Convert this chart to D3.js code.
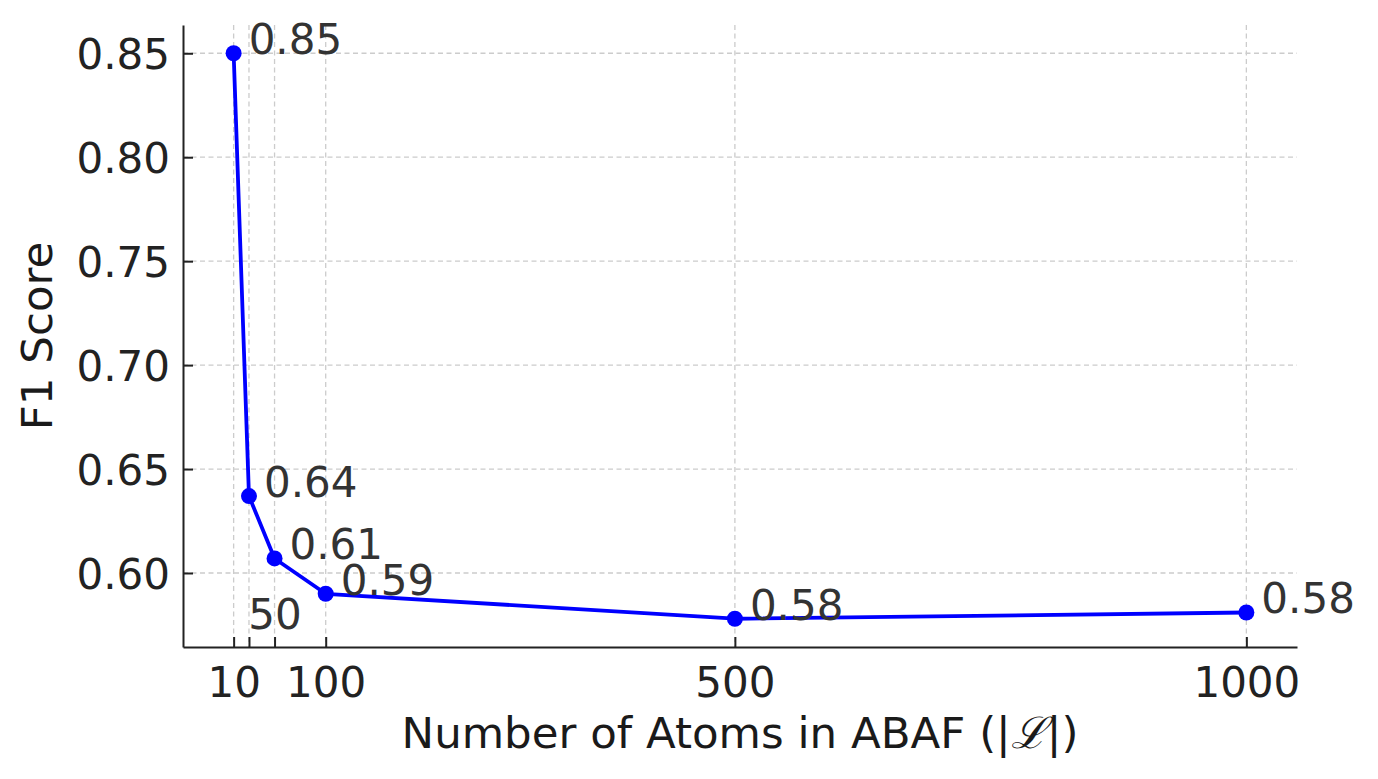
<!DOCTYPE html>
<html>
<head>
<meta charset="utf-8">
<script src="https://cdn.jsdelivr.net/npm/d3@7"></script>
<style>
  body { margin: 0; background: #fff; }
  text { font-family: "DejaVu Sans", sans-serif; }
</style>
</head>
<body>
<svg width="1378" height="779"></svg>
<script>
// data
const atoms = [10, 25, 50, 100, 500, 1000]
const f1 = [0.85, 0.637, 0.607, 0.590, 0.578, 0.581]
const xTicks = [10, 25, 50, 100, 500, 1000]
const xTickLabels = ["10", "", "50", "100", "500", "1000"]
const yTicks = [0.60, 0.65, 0.70, 0.75, 0.80, 0.85]

const svg = d3.select("svg")
const m = { left: 183, right: 1297, top: 25, bottom: 647 }
const fs = 42      // ticks + value labels
const fsTitle = 43.5

// matplotlib style 5% margins
const xPad = (d3.max(atoms) - d3.min(atoms)) * 0.05
const yPad = (d3.max(f1) - d3.min(f1)) * 0.05
const x = d3.scaleLinear()
    .domain([d3.min(atoms) - xPad, d3.max(atoms) + xPad])
    .range([m.left, m.right])
const y = d3.scaleLinear()
    .domain([d3.min(f1) - yPad, d3.max(f1) + yPad])
    .range([m.bottom, m.top])

// grid
const grid = svg.append("g")
    .attr("stroke", "#cccccc")
    .attr("stroke-width", 1.3)
    .attr("stroke-dasharray", "5,3.5")
grid.selectAll(".vg").data(xTicks).enter().append("line")
    .attr("x1", d => x(d)).attr("x2", d => x(d))
    .attr("y1", m.top).attr("y2", m.bottom)
grid.selectAll(".hg").data(yTicks).enter().append("line")
    .attr("x1", m.left).attr("x2", m.right)
    .attr("y1", d => y(d)).attr("y2", d => y(d))

// axes (ticks point inward)
const xAxis = d3.axisBottom(x)
    .tickValues(xTicks)
    .tickSizeInner(-10).tickSizeOuter(0)
    .tickPadding(20)
    .tickFormat((d, i) => xTickLabels[i])
const gx = svg.append("g")
    .attr("transform", `translate(0,${m.bottom})`)
    .call(xAxis)
const yAxis = d3.axisLeft(y)
    .tickValues(yTicks)
    .tickSizeInner(-10).tickSizeOuter(0)
    .tickPadding(13)
    .tickFormat(d3.format(".2f"))
const gy = svg.append("g")
    .attr("transform", `translate(${m.left},0)`)
    .call(yAxis)

for (const g of [gx, gy]) {
    g.select(".domain").attr("stroke", "#222").attr("stroke-width", 2)
    g.selectAll(".tick line").attr("stroke", "#222").attr("stroke-width", 2)
    g.selectAll(".tick text")
        .attr("font-size", fs)
        .attr("font-family", "DejaVu Sans")
        .attr("fill", "#222")
}
gy.selectAll(".tick text").attr("dy", "0.36em")
gx.selectAll(".tick text").attr("dy", "0.71em")
// the "50" label sits up inside the plot in the original
gx.selectAll(".tick text").filter(d => d === 50)
    .attr("y", -18).attr("dy", 0).attr("fill", "#333")

// line + markers
const line = d3.line().x((d, i) => x(atoms[i])).y(d => y(d))
svg.append("path")
    .datum(f1)
    .attr("d", line)
    .attr("fill", "none")
    .attr("stroke", "#0000ff")
    .attr("stroke-width", 3.8)
    .attr("stroke-linejoin", "round")
svg.selectAll(".pt").data(f1).enter().append("circle")
    .attr("cx", (d, i) => x(atoms[i]))
    .attr("cy", d => y(d))
    .attr("r", 8)
    .attr("fill", "#0000ff")

// value labels
svg.selectAll(".lbl").data(f1).enter().append("text")
    .attr("x", (d, i) => x(atoms[i]) + 15)
    .attr("y", d => y(d) + 1)
    .attr("font-size", fs)
    .attr("fill", "#333")
    .text(d => d.toFixed(2))

// axis titles
const xl = svg.append("text")
    .attr("x", (m.left + m.right) / 2)
    .attr("y", 748)
    .attr("text-anchor", "middle")
    .attr("font-size", fsTitle)
    .attr("fill", "#1a1a1a")
xl.append("tspan").text("Number of Atoms in ABAF (|")
xl.append("tspan").attr("font-family", "DejaVu Serif").attr("font-style", "italic").text("ℒ")
xl.append("tspan").text("|)")

svg.append("text")
    .attr("transform", `translate(52,${(m.top + m.bottom) / 2}) rotate(-90)`)
    .attr("text-anchor", "middle")
    .attr("font-size", fsTitle)
    .attr("fill", "#1a1a1a")
    .text("F1 Score")
</script>
</body>
</html>
